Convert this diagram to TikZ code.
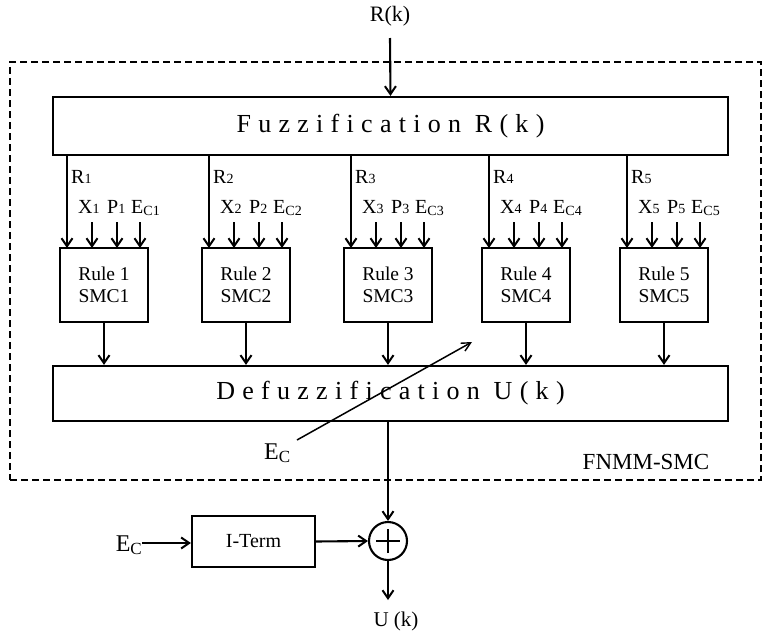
\documentclass[tikz,border=0pt]{standalone}
\usepackage{fontspec}
\setmainfont{Liberation Serif}
\usetikzlibrary{arrows.meta}
\newcommand{\sbs}[1]{\raisebox{-0.05ex}{\fontsize{14}{14}\selectfont #1}}
\newcommand{\sbc}[1]{\raisebox{-0.3ex}{\fontsize{14}{14}\selectfont #1}}
\begin{document}
\begin{tikzpicture}[x=1pt,y=-1pt,
  box/.style={draw, line width=2.2pt, inner sep=0pt, align=center},
  arr/.style={-{Straight Barb[length=8pt,width=11pt,line width=2pt]}, line width=2.1pt},
  thinarr/.style={-{Straight Barb[length=9pt,width=9pt,line width=1.4pt]}, line width=1.5pt},
  lbl/.style={inner sep=0pt, font=\fontsize{20}{20}\selectfont},
  spaced/.style={font=\fontsize{26}{26}\selectfont\addfontfeature{LetterSpace=28}},
  rulebox/.style={box, minimum width=88pt, minimum height=74pt, font=\fontsize{19.5}{22}\selectfont}]
\useasboundingbox (0,0) rectangle (764,635);
% dashed frame
\node[draw, dash pattern=on 7pt off 4pt, line width=1.5pt, minimum width=751pt, minimum height=418pt, inner sep=0pt] (frame) at (385.5,271) {};
\node[lbl, font=\fontsize{23}{23}\selectfont] (fl) at (646,462) {FNMM-SMC};
% input
\node[lbl, font=\fontsize{22}{22}\selectfont] (rk) at (390,16) {R(k)};
\node[box, minimum width=675pt, minimum height=58pt, spaced] (fz) at (390.5,126) {Fuzzification R(k)};
\coordinate (rkin) at (390,38);
\draw[arr] (rkin) -- (fz.north);
% defuzz
\node[box, minimum width=675pt, minimum height=55pt, spaced] (dz) at (390.5,393.5) {Defuzzification U(k)};
% rule boxes
\foreach \i/\cx in {1/104,2/246,3/388,4/526,5/664}{
  \node[rulebox] (r\i) at (\cx,285) {Rule \i\\SMC\i};
  \coordinate (ra\i) at (\cx-37,248);
  \coordinate (xa\i) at (\cx-12,248);
  \coordinate (pa\i) at (\cx+13,248);
  \coordinate (ea\i) at (\cx+36,248);
  \draw[arr] (ra\i |- fz.south) -- (ra\i);
  \draw[arr] ([yshift=26pt]xa\i) -- (xa\i);
  \draw[arr] ([yshift=26pt]pa\i) -- (pa\i);
  \draw[arr] ([yshift=26pt]ea\i) -- (ea\i);
  \node[lbl, anchor=base west] (rl\i) at (\cx-33,183) {R\sbs{\i}};
  \node[lbl, anchor=base west] (xl\i) at (\cx-26,213) {X\sbs{\i}};
  \node[lbl, anchor=base west] (pl\i) at (\cx+3,213) {P\sbs{\i}};
  \node[lbl, anchor=base west] (el\i) at (\cx+27,213) {E\sbc{C\i}};
  \draw[arr] (r\i.south) -- (r\i.south |- dz.north);
}
% Ec diagonal
\node[lbl, font=\fontsize{24}{24}\selectfont, anchor=base west] (ecd) at (264,459) {E\raisebox{-0.3ex}{\fontsize{17}{17}\selectfont C}};
\coordinate (ectip) at (472,342);
\coordinate (ectail) at (297,440);
\draw[thinarr] (ectail) -- (ectip);
% summing junction
\node[draw, circle, line width=2.1pt, minimum size=38pt, inner sep=0pt] (sum) at (388,541) {};
\draw[line width=2pt] ([xshift=-12pt]sum.center) -- ([xshift=12pt]sum.center);
\draw[line width=2pt] ([yshift=-12pt]sum.center) -- ([yshift=12pt]sum.center);
\draw[arr] (dz.south -| sum) -- (sum.north);
\node[box, minimum width=123pt, minimum height=51pt, font=\fontsize{20}{20}\selectfont] (it) at (253.5,541.5) {I-Term};
\node[lbl, font=\fontsize{24}{24}\selectfont, anchor=base east] (eci) at (142,551) {E\raisebox{-0.3ex}{\fontsize{17}{17}\selectfont C}};
\coordinate (eciout) at (142,543);
\draw[arr] (eciout) -- (eciout -| it.west);
\draw[arr] (it.east) -- (sum.west);
\coordinate (uout) at (388,600);
\draw[arr] (sum.south) -- (uout);
\node[lbl, font=\fontsize{21}{21}\selectfont] (uk) at (396,621) {U (k)};
\end{tikzpicture}
\end{document}
